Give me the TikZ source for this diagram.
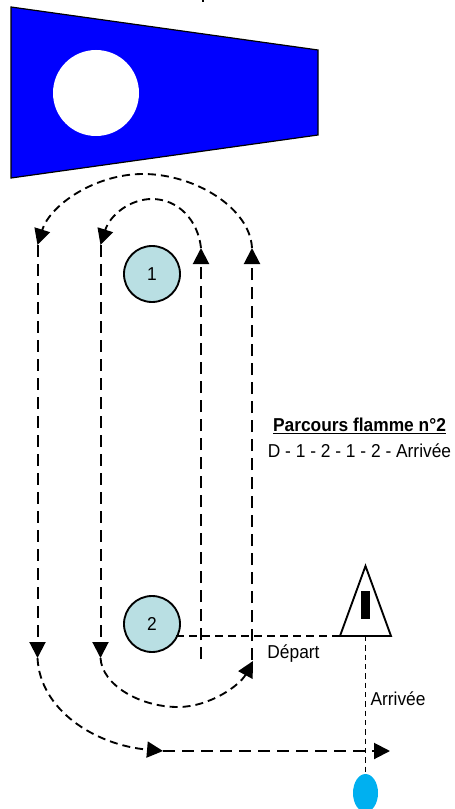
\documentclass[tikz,border=0pt]{standalone}
\usepackage{fontspec}
\setmainfont[FakeStretch=0.93]{Liberation Sans}
\usetikzlibrary{arrows.meta,shapes.geometric}
\tikzset{
  longdash/.style={draw=black,line width=1.5pt,dash pattern=on 9pt off 5.25pt},
  shortdash/.style={draw=black,line width=1.4pt,dash pattern=on 6pt off 3.75pt},
  finedash/.style={draw=black,line width=1.4pt,dash pattern=on 4pt off 3pt},
  tipped/.style={-{Triangle[length=12pt,width=12pt]}},
  buoy/.style={circle,draw=black,line width=1.4pt,fill=buoyfill,minimum size=42pt,inner sep=0pt,font=\fontsize{14}{16}\selectfont},
  lbl/.style={inner sep=0pt,font=\fontsize{14}{16}\selectfont}
}
\definecolor{buoyfill}{HTML}{B9DFE3}
\definecolor{flagblue}{HTML}{0000FF}
\definecolor{finish}{HTML}{00B0F0}
\begin{document}
\begin{tikzpicture}[x=0.75pt,y=-0.75pt]
\useasboundingbox (0,0) rectangle (454,809);
\clip (0,0) rectangle (454,809);
% flag
\draw[fill=flagblue,draw=black,line width=0.9pt,line join=miter] (11,7) -- (318,50) -- (318,135) -- (11,178) -- cycle;
\fill[white] (96,93) circle[radius=43];
% tick at top
\draw[black,line width=1.4pt] (203,-2) -- (203,2);
% buoys
\node[buoy] (b1) at (152,274) {1};
\node[buoy] (b2) at (152,624) {2};
% committee boat
\node[draw=none,inner sep=0pt] (apex) at (365.5,566) {};
\coordinate (tl) at (340,636);
\coordinate (tr) at (391,636);
\coordinate (tm) at (365.5,636);
\draw[black,line width=1.4pt,line join=miter,fill=white] (apex.center) -- (tl) -- (tr) -- cycle;
\fill[black] (361,591) rectangle (369.5,619);
\node[ellipse,fill=finish,minimum width=25pt*0.75,minimum height=38pt*0.75,inner sep=0pt] (fin) at (365.5,793) {};
% way points
\coordinate (a1) at (37.5,245);  \coordinate (a2) at (37.5,658);
\coordinate (c1) at (100.5,245); \coordinate (c2) at (100.5,658);
\coordinate (d1) at (201,248);   \coordinate (d2) at (201,659);
\coordinate (e1) at (252,248);   \coordinate (e2) at (252,660);
\coordinate (e3) at (253,661);
\coordinate (h1) at (163,751);   \coordinate (h2) at (390,751);
\coordinate (s1) at (176,636);
% start line and finish line
\draw[shortdash] (s1) -- (tl);
\draw[finedash] (tm) -- (fin.north);
% straight legs
\draw[longdash,tipped] (a1) -- (a2);
\draw[longdash,tipped] (c1) -- (c2);
\draw[longdash,tipped] (d2) -- (d1);
\draw[longdash,tipped] (e2) -- (e1);
\draw[longdash,tipped] (h1) -- (h2);
% curves
\draw[shortdash,tipped] (e1) .. controls (250,208) and (195,174) .. (143,174)
   .. controls (95,174) and (50,205) .. (a1);
\draw[shortdash,tipped] (d1) .. controls (198,220) and (178,199) .. (152,199)
   .. controls (130,199) and (110,215) .. (c1);
\draw[shortdash,tipped] (c2) .. controls (102,685) and (140,707) .. (178,707)
   .. controls (210,707) and (240,685) .. (e3);
\draw[shortdash,tipped] (a2) .. controls (40,710) and (95,745) .. (h1);
% labels
\node[lbl,font=\fontsize{14}{16}\selectfont\bfseries] (title) at (359.5,426) {\underline{Parcours flamme n°2}};
\node[lbl] (sub) at (359.5,451) {D - 1 - 2 - 1 - 2 - Arrivée};
\node[lbl] (dep) at (293.5,654) {Départ};
\node[lbl] (arr) at (398,699) {Arrivée};
\end{tikzpicture}
\end{document}
